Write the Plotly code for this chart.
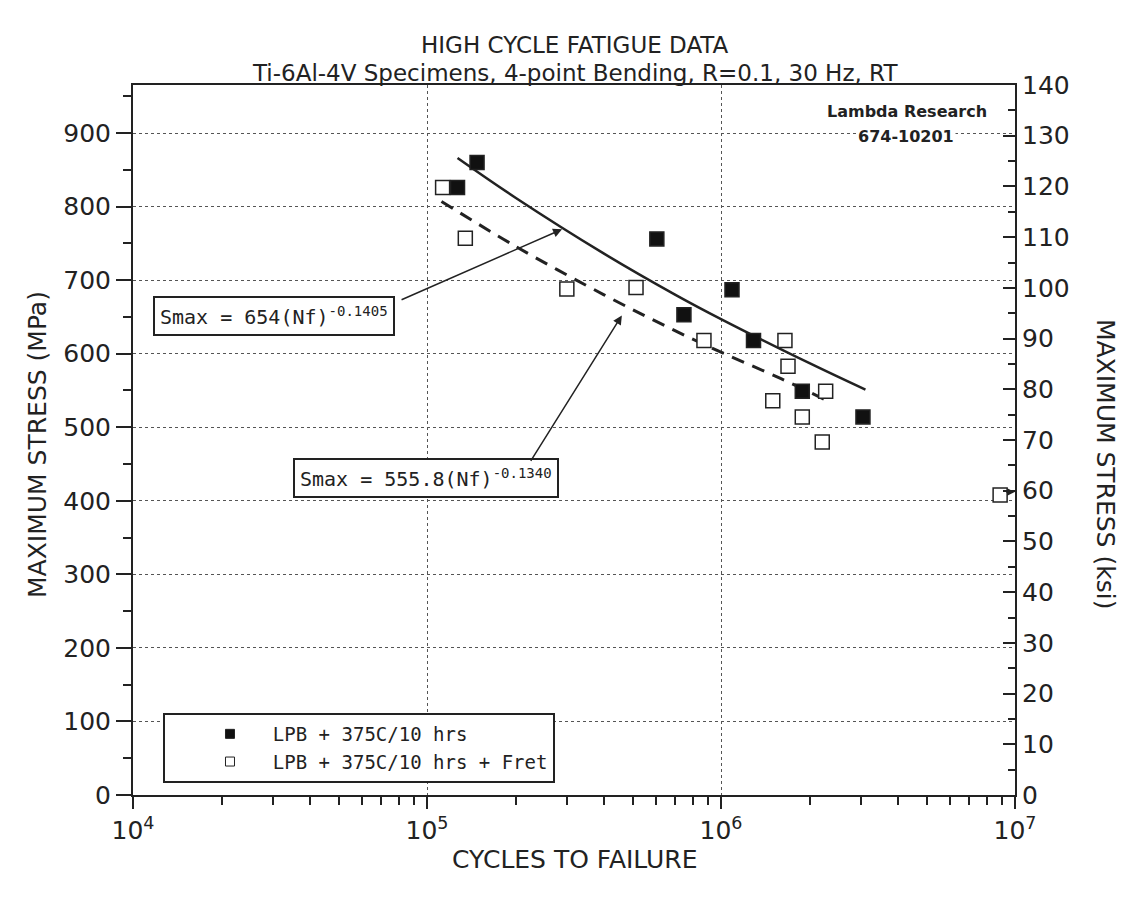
"""
High cycle fatigue S-N chart for Ti-6Al-4V, 4-point bending
Two specimen groups plus their power-law fit lines
"""

import numpy as np
import plotly.graph_objects as go

MPA_PER_KSI = 6.894757

# LPB + 375C/10 hrs (filled squares)
lpb_cycles = [1.48e5, 1.27e5, 6.05e5, 1.09e6, 7.48e5, 1.29e6, 1.89e6, 3.04e6]
lpb_stress = [860, 826, 756, 687, 653, 618, 549, 514]

# LPB + 375C/10 hrs + Fret (open squares)
fret_cycles = [1.13e5, 1.35e5, 2.99e5, 5.14e5, 8.75e5, 1.65e6, 1.69e6,
               1.50e6, 1.89e6, 2.27e6, 2.21e6, 8.9e6]
fret_stress = [826, 757, 688, 690, 618, 618, 583, 536, 514, 549, 480, 408]

# fit lines, points
fit_lpb_cycles = [1.27e5, 2.0e5, 4.0e5, 7.0e5, 1.0e6, 2.0e6, 3.1e6]
fit_lpb_stress = [866, 812, 736, 680, 647, 587, 551]
fit_fret_cycles = [1.12e5, 2.0e5, 4.0e5, 7.0e5, 1.0e6, 1.6e6, 2.3e6]
fit_fret_stress = [807, 746, 680, 631, 602, 566, 536]

x_tickvals = [1e4, 1e5, 1e6, 1e7]
x_ticktext = ["10<sup>4</sup>", "10<sup>5</sup>", "10<sup>6</sup>", "10<sup>7</sup>"]
y_mpa_ticks = list(range(0, 901, 100))
y_ksi_max = 140

INK = "#222222"
FONT = "DejaVu Sans, Liberation Sans, sans-serif"
MONO = "DejaVu Sans Mono, Liberation Mono, monospace"
NB = "\u00a0"

fig = go.Figure()

fig.add_trace(go.Scatter(
    x=fit_lpb_cycles, y=fit_lpb_stress, mode="lines", line_shape="spline",
    line=dict(color=INK, width=2.5), showlegend=False, hoverinfo="skip"
))
fig.add_trace(go.Scatter(
    x=fit_fret_cycles, y=fit_fret_stress, mode="lines", line_shape="spline",
    line=dict(color=INK, width=3, dash="13px,9px"), showlegend=False, hoverinfo="skip"
))
fig.add_trace(go.Scatter(
    x=lpb_cycles, y=lpb_stress, mode="markers", showlegend=False,
    marker=dict(symbol="square", size=14, color="#111111", line=dict(color=INK, width=1.5))
))
fig.add_trace(go.Scatter(
    x=fret_cycles, y=fret_stress, mode="markers", showlegend=False,
    marker=dict(symbol="square", size=14, color="white", line=dict(color=INK, width=1.5))
))
# legend-only entries with the small symbols of the original key
fig.add_trace(go.Scatter(
    x=[None], y=[None], mode="markers", name=NB * 2 + "LPB + 375C/10 hrs",
    marker=dict(symbol="square", size=9, color="#111111", line=dict(color=INK, width=1))
))
fig.add_trace(go.Scatter(
    x=[None], y=[None], mode="markers", name=NB * 2 + "LPB + 375C/10 hrs + Fret",
    marker=dict(symbol="square", size=9, color="white", line=dict(color=INK, width=1))
))
# dummy trace so the ksi axis gets drawn
fig.add_trace(go.Scatter(
    x=[1e4], y=[0], yaxis="y2", mode="markers", marker=dict(opacity=0),
    showlegend=False, hoverinfo="skip"
))

minor_x = [m * 10 ** k for k in range(4, 7) for m in range(2, 10)]

fig.update_layout(
    width=1121, height=895,
    margin=dict(l=125, r=114, t=77, b=108),
    paper_bgcolor="white", plot_bgcolor="white",
    font=dict(family=FONT, size=25, color=INK),
    xaxis=dict(
        type="log", range=[4, 7],
        tickvals=x_tickvals, ticktext=x_ticktext,
        ticks="outside", ticklen=12, tickwidth=2, tickcolor=INK,
        minor=dict(tickvals=minor_x, ticks="outside", ticklen=8, tickwidth=1.5,
                   tickcolor=INK, showgrid=False),
        showline=True, linewidth=2, linecolor=INK, mirror=True,
        showgrid=True, griddash="dot", gridcolor="#555555", gridwidth=1,
        zeroline=False,
    ),
    yaxis=dict(
        range=[0, y_ksi_max * MPA_PER_KSI],
        tickvals=y_mpa_ticks,
        ticks="outside", ticklen=15, tickwidth=2, tickcolor=INK,
        minor=dict(dtick=50, ticks="outside", ticklen=8, tickwidth=2,
                   tickcolor=INK, showgrid=False),
        showline=True, linewidth=2, linecolor=INK,
        showgrid=True, griddash="dot", gridcolor="#555555", gridwidth=1,
        zeroline=False,
    ),
    yaxis2=dict(
        overlaying="y", side="right", anchor="x",
        range=[0, y_ksi_max], dtick=10,
        ticks="inside", ticklen=12, tickwidth=2, tickcolor=INK,
        minor=dict(dtick=5, ticks="inside", ticklen=7, tickwidth=2, tickcolor=INK),
        showline=True, linewidth=2, linecolor=INK,
        showgrid=False, zeroline=False,
    ),
    legend=dict(
        x=0.034, y=0.1155, xanchor="left", yanchor="top",
        bgcolor="white", bordercolor=INK, borderwidth=2,
        font=dict(family=MONO, size=19, color=INK),
        indentation=45, tracegroupgap=0,
    ),
    showlegend=True,
)

annotations = [
    dict(text="HIGH CYCLE FATIGUE DATA", x=0.501, y=1.0563, font=dict(size=23)),
    dict(text="Ti-6Al-4V Specimens, 4-point Bending, R=0.1, 30 Hz, RT",
         x=0.501, y=1.0169, font=dict(size=23)),
    dict(text="CYCLES TO FAILURE", x=0.501, y=-0.0915),
    dict(text="MAXIMUM STRESS (MPa)", x=-0.1077, y=0.493, textangle=-90),
    dict(text="MAXIMUM STRESS (ksi)", x=1.102, y=0.465, textangle=90),
    dict(text="Lambda Research", x=0.878, y=0.962,
         font=dict(size=16, weight="bold")),
    dict(text="674-10201", x=0.876, y=0.928, bgcolor="white",
         font=dict(size=16, weight="bold")),
    dict(text="Smax = 654(Nf)<sup>-0.1405</sup>", x=0.160, y=0.675,
         font=dict(family=MONO, size=20), bgcolor="white",
         bordercolor=INK, borderwidth=2, borderpad=5),
    dict(text="Smax = 555.8(Nf)<sup>-0.1340</sup>", x=0.332, y=0.446,
         font=dict(family=MONO, size=20), bgcolor="white",
         bordercolor=INK, borderwidth=2, borderpad=5),
]
for a in annotations:
    a.setdefault("xref", "paper")
    a.setdefault("yref", "paper")
    a.setdefault("showarrow", False)
    a.setdefault("xanchor", "center")
    a.setdefault("yanchor", "middle")
    fig.add_annotation(**a)

# pointer arrows from the equation boxes to the fit lines
fig.add_annotation(x=np.log10(2.88e5), y=769, xref="x", yref="y",
                   ax=-162, ay=71, showarrow=True, arrowhead=2,
                   arrowsize=1.2, arrowwidth=1.5, arrowcolor=INK, text="")
fig.add_annotation(x=np.log10(4.6e5), y=652, xref="x", yref="y",
                   ax=-92, ay=147, showarrow=True, arrowhead=2,
                   arrowsize=1.2, arrowwidth=1.5, arrowcolor=INK, text="")
# run-out arrow at the 10^7 specimen
fig.add_annotation(x=6.999, y=412, xref="x", yref="y",
                   ax=-10, ay=0, showarrow=True, arrowhead=2,
                   arrowsize=1, arrowwidth=1.5, arrowcolor=INK, text="")

fig.write_html("out.html")
